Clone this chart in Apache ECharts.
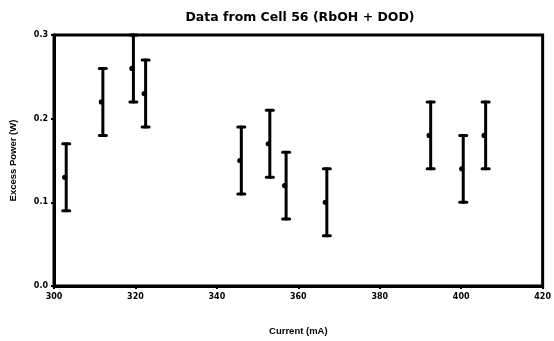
<!DOCTYPE html>
<html>
<head>
<meta charset="utf-8">
<script src="https://cdn.jsdelivr.net/npm/echarts@6/dist/echarts.min.js"></script>
<style>
  html, body { margin: 0; padding: 0; background: #fff; }
  #chart { width: 554px; height: 341px; }
</style>
</head>
<body>
<div id="chart"></div>
<script>
// Cell 56 excess power measurements with error bars
const currents    = [303, 312, 319.5, 322.5, 346, 353, 357, 367, 392.5, 400.5, 406];
const excessPower = [0.13, 0.22, 0.26, 0.23, 0.15, 0.17, 0.12, 0.10, 0.18, 0.14, 0.18];
const errorLow    = [0.09, 0.18, 0.22, 0.19, 0.11, 0.13, 0.08, 0.06, 0.14, 0.10, 0.14];
const errorHigh   = [0.17, 0.26, 0.30, 0.27, 0.19, 0.21, 0.16, 0.14, 0.22, 0.18, 0.22];

const xTicks = [300, 320, 340, 360, 380, 400, 420];
const yTicks = [0.0, 0.1, 0.2, 0.3];

const points = currents.map((c, i) => [c, excessPower[i], errorLow[i], errorHigh[i]]);

const chart = echarts.init(document.getElementById('chart'), null, { renderer: 'canvas' });

const tickFont = { fontFamily: 'DejaVu Sans', fontWeight: 'bold', fontSize: 8, color: '#000' };
const nameFont = { fontFamily: 'Liberation Sans', fontWeight: 'bold', fontSize: 9.5, color: '#000' };

chart.setOption({
  animation: false,
  backgroundColor: '#fff',
  title: {
    text: 'Data from Cell 56 (RbOH + DOD)',
    left: 295, top: 6, textAlign: 'center',
    textStyle: { fontFamily: 'DejaVu Sans', fontWeight: 'bold', fontSize: 12.5, color: '#000' }
  },
  grid: {
    left: 53, right: 10, top: 35, bottom: 55,
    show: true, borderColor: '#000', borderWidth: 3, backgroundColor: 'transparent'
  },
  xAxis: {
    type: 'value', min: 300, max: 420, interval: 20,
    name: 'Current (mA)', nameLocation: 'middle', nameGap: 40,
    nameTextStyle: nameFont,
    axisLine: { show: true, lineStyle: { color: '#000', width: 3 } },
    axisTick: { show: true, length: 3, lineStyle: { color: '#000', width: 2 } },
    axisLabel: Object.assign({ margin: 7, formatter: v => xTicks.includes(v) ? String(v) : '' }, tickFont),
    splitLine: { show: false }
  },
  yAxis: {
    type: 'value', min: 0, max: 0.3, interval: 0.1,
    name: 'Excess Power (W)', nameLocation: 'middle', nameGap: 36,
    nameTextStyle: nameFont,
    axisLine: { show: true, lineStyle: { color: '#000', width: 3 } },
    axisTick: { show: true, length: 3, lineStyle: { color: '#000', width: 2 } },
    axisLabel: Object.assign({ margin: 6, formatter: v => yTicks.find(t => Math.abs(t - v) < 1e-9) !== undefined ? v.toFixed(1) : '' }, tickFont),
    splitLine: { show: false }
  },
  series: [{
    type: 'custom',
    clip: false,
    data: points,
    renderItem: function (params, api) {
      const x = api.value(0);
      const mid = api.coord([x, api.value(1)]);
      const lo = api.coord([x, api.value(2)]);
      const hi = api.coord([x, api.value(3)]);
      const capHalf = 3.5;
      const style = { stroke: '#000', lineWidth: 3, lineCap: 'round' };
      return {
        type: 'group',
        children: [
          { type: 'line', shape: { x1: mid[0], y1: hi[1], x2: mid[0], y2: lo[1] }, style: style },
          { type: 'line', shape: { x1: mid[0] - capHalf, y1: hi[1], x2: mid[0] + capHalf, y2: hi[1] }, style: style },
          { type: 'line', shape: { x1: mid[0] - capHalf, y1: lo[1], x2: mid[0] + capHalf, y2: lo[1] }, style: style },
          { type: 'circle', shape: { cx: mid[0] - 1.5, cy: mid[1], r: 2.6 }, style: { fill: '#000' } }
        ]
      };
    }
  }]
});
</script>
</body>
</html>
